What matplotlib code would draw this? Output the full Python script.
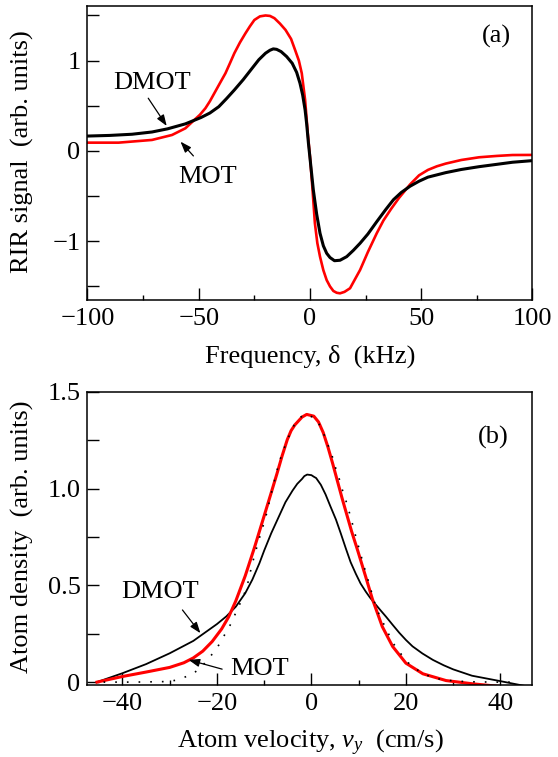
import matplotlib
matplotlib.use("Agg")
import matplotlib.pyplot as plt
from matplotlib.ticker import MultipleLocator

plt.rcParams["font.family"] = ["Liberation Serif", "DejaVu Serif"]
plt.rcParams["mathtext.fontset"] = "custom"
plt.rcParams["mathtext.rm"] = "Liberation Serif"
plt.rcParams["mathtext.it"] = "Liberation Serif:italic"
plt.rcParams["font.size"] = 19

# (a) RIR signal vs frequency detuning, kHz
freq_dmot = [-100, -90, -80, -71, -64, -56, -49, -45, -41, -37.5, -34, -30, -26, -23, -20, -18,
             -16.5, -15, -13, -10.5, -8, -6, -4.5, -3.3, -2.2, -1.5, -0.7, 0.3, 1.5, 3, 4.5,
             6, 7.5, 9, 11, 13.5, 16.5, 19.5, 22.5, 26, 30, 34, 37.5, 41, 45, 49, 53, 61,
             68, 76, 84, 91, 100]
sig_dmot = [0.165, 0.172, 0.185, 0.21, 0.245, 0.30, 0.37, 0.42, 0.49, 0.58, 0.675, 0.79, 0.916,
            1.01, 1.082, 1.115, 1.13, 1.125, 1.10, 1.045, 0.971, 0.87, 0.75, 0.62, 0.454,
            0.30, 0.085, -0.15, -0.432, -0.70, -0.911, -1.05, -1.133, -1.18, -1.215, -1.21,
            -1.17, -1.10, -1.022, -0.92, -0.783, -0.65, -0.54, -0.46, -0.39, -0.335, -0.29,
            -0.24, -0.205, -0.174, -0.148, -0.125, -0.107]

freq_mot = [-100, -86, -71, -62, -56, -52, -49.5, -47, -45, -43, -40.5, -38, -36, -34, -31.5,
            -29, -27, -25, -22.5, -20, -18, -16, -13.5, -11, -8.5, -6.7, -5, -3.7, -2.2, -1,
            0, 1, 2.2, 3.3, 4.5, 6, 7.5, 9, 10.5, 12, 13.5, 15.5, 18, 20, 22.5, 26, 30, 33,
            36.5, 40, 45, 49, 53, 57, 61, 68, 76, 84, 91, 100]
sig_mot = [0.092, 0.092, 0.122, 0.177, 0.251, 0.343, 0.40, 0.473, 0.55, 0.639, 0.75, 0.86,
           0.97, 1.082, 1.20, 1.303, 1.38, 1.45, 1.49, 1.50, 1.495, 1.47, 1.41, 1.34, 1.24,
           1.118, 1.0, 0.86, 0.565, 0.196, -0.063, -0.38, -0.80, -1.02, -1.17, -1.32, -1.43,
           -1.50, -1.55, -1.57, -1.576, -1.56, -1.52, -1.43, -1.318, -1.12, -0.911, -0.77,
           -0.64, -0.52, -0.37, -0.27, -0.21, -0.17, -0.14, -0.10, -0.07, -0.055, -0.045,
           -0.044]

# (b) atom density vs velocity, cm/s
vel_dmot = [-45.4, -40, -35, -30, -25, -20, -18, -16, -14, -12.5, -11, -10, -8.5, -7, -5.5,
            -4, -3, -2, -1.5, -0.9, 0, 0.5, 1, 2, 3, 4, 5.2, 6.2, 7.3, 8.3, 9.4, 10.4, 11.5,
            12.4, 13.3, 14.5, 15.8, 17.2, 18.6, 20, 21.4, 23.5, 25.7, 28, 30, 34, 40, 45]
dens_dmot = [0, 0.046, 0.093, 0.149, 0.213, 0.30, 0.34, 0.39, 0.46, 0.53, 0.615, 0.68, 0.77,
             0.85, 0.93, 0.99, 1.025, 1.05, 1.065, 1.073, 1.07, 1.062, 1.055, 1.02, 0.97,
             0.91, 0.84, 0.77, 0.69, 0.62, 0.56, 0.51, 0.468, 0.437, 0.41, 0.375, 0.338,
             0.296, 0.255, 0.218, 0.185, 0.148, 0.115, 0.087, 0.066, 0.033, 0.005, -0.019]

vel_mot = [-45.4, -40, -35, -30, -27, -25, -23, -21, -19, -17.5, -16, -14, -12, -10, -8.5,
           -7.3, -6.2, -5.1, -4.3, -3.5, -2, -1, 0.5, 1.5, 2.5, 3.5, 4.5, 5.5, 6.5, 7.5, 8.5,
           9.8, 11.5, 12.9, 15, 17.2, 20, 23.6, 28.5, 34.2, 39.7]
dens_mot = [0, 0.029, 0.052, 0.076, 0.10, 0.125, 0.16, 0.21, 0.275, 0.338, 0.42, 0.55, 0.70,
            0.86, 0.98, 1.077, 1.17, 1.254, 1.30, 1.33, 1.37, 1.384, 1.375, 1.345, 1.29,
            1.215, 1.13, 1.04, 0.95, 0.865, 0.78, 0.68, 0.544, 0.43, 0.287, 0.184, 0.098,
            0.043, 0.008, -0.009, -0.022]

vel_fit = [-44, -37.6, -30, -27.8, -24.9, -23.2, -21.4, -19.6, -18.2, -16.8, -15.8, -14.4,
           -13.4, -12.6, -11.2, -9.7, -8.4, -6.8, -5.9, -4.9, -3.6, -1.7, 0.8, 2.2, 3.2, 4.3,
           5.0, 5.9, 6.6, 7.5, 8.2, 8.9, 9.6, 10.3, 11.0, 11.8, 12.5, 13.2, 13.9, 14.9, 16.1,
           17.3, 19.1, 20.9, 23.1, 25.3, 27.8, 30.3, 33.1, 38.4, 43]
dens_fit = [0.0, 0.0, 0.003, 0.015, 0.046, 0.081, 0.132, 0.192, 0.252, 0.312, 0.372, 0.441,
            0.518, 0.605, 0.73, 0.85, 0.985, 1.14, 1.20, 1.263, 1.332, 1.384, 1.367, 1.31,
            1.245, 1.177, 1.116, 1.05, 0.99, 0.923, 0.862, 0.799, 0.733, 0.673, 0.608, 0.544,
            0.485, 0.424, 0.373, 0.321, 0.261, 0.201, 0.141, 0.089, 0.052, 0.026, 0.012,
            0.006, 0.002, 0.0, 0.0]

RED = "#ff0000"

fig = plt.figure(figsize=(5.58, 7.57), dpi=100)
ax1 = fig.add_axes([0.1568, 0.6037, 0.7975, 0.3884])
ax2 = fig.add_axes([0.1568, 0.0951, 0.7975, 0.3871])

arrow = dict(arrowstyle="-|>,head_length=0.55,head_width=0.2", color="k", lw=0.9,
             mutation_scale=12, shrinkA=0, shrinkB=0)

# ---- panel (a)
ax1.plot(freq_mot, sig_mot, color=RED, lw=1.9)
ax1.plot(freq_dmot, sig_dmot, color="k", lw=2.2)
ax1.set_xlim(-100, 100)
ax1.set_ylim(-1.65, 1.605)
ax1.set_xticks([-100, -50, 0, 50, 100])
ax1.xaxis.set_minor_locator(MultipleLocator(25))
ax1.set_yticks([-1, 0, 1], ["\u22121", "0", "1"])
ax1.yaxis.set_minor_locator(MultipleLocator(0.5))
ax1.set_xlabel("Frequency, \u03b4  (kHz)")
ax1.set_ylabel("RIR signal  (arb. units)")
ax1.text(0.918, 0.895, "(a)", transform=ax1.transAxes, ha="center", va="center")
ax1.text(-71, 0.75, "DMOT", ha="center", va="center")
ax1.annotate("", xy=(-64.4, 0.277), xytext=(-72.7, 0.584), arrowprops=arrow)
ax1.text(-46, -0.29, "MOT", ha="center", va="center")
ax1.annotate("", xy=(-58.2, 0.103), xytext=(-52.4, -0.055), arrowprops=arrow)

# ---- panel (b)
ax2.plot(vel_dmot, dens_dmot, color="k", lw=1.3)
ax2.plot(vel_mot, dens_mot, color=RED, lw=2.2)
ax2.plot(vel_fit, dens_fit, color="k", lw=1.2, linestyle=(0, (1, 6)))
ax2.set_xlim(-47.4, 46.8)
ax2.set_ylim(-0.015, 1.5)
ax2.set_xticks([-40, -20, 0, 20, 40])
ax2.xaxis.set_minor_locator(MultipleLocator(10))
ax2.set_yticks([0, 0.5, 1.0, 1.5], ["0", "0.5", "1.0", "1.5"])
ax2.yaxis.set_minor_locator(MultipleLocator(0.25))
ax2.set_xlabel("Atom velocity, $v_y$  (cm/s)")
ax2.set_ylabel("Atom density  (arb. units)")
ax2.text(0.911, 0.846, "(b)", transform=ax2.transAxes, ha="center", va="center")
ax2.text(-32, 0.468, "DMOT", ha="center", va="center")
ax2.annotate("", xy=(-23.5, 0.253), xytext=(-27.3, 0.373), arrowprops=arrow)
ax2.text(-11, 0.069, "MOT", ha="center", va="center")
ax2.annotate("", xy=(-26.0, 0.115), xytext=(-18.9, 0.067), arrowprops=arrow)

for ax in (ax1, ax2):
    for s in ax.spines.values():
        s.set_linewidth(1.1)
    ax.tick_params(which="both", direction="in", top=False, right=False, width=1.0)
    ax.tick_params(axis="x", which="major", length=8.5, pad=6)
    ax.tick_params(axis="x", which="minor", length=3.8)
    ax.tick_params(axis="y", which="both", length=8.5, pad=5)
    ax.yaxis.set_label_coords(-0.12, 0.505)
ax1.xaxis.set_label_coords(0.5, -0.15)
ax2.xaxis.set_label_coords(0.5, -0.145)

fig.savefig("out.png", dpi=100)
